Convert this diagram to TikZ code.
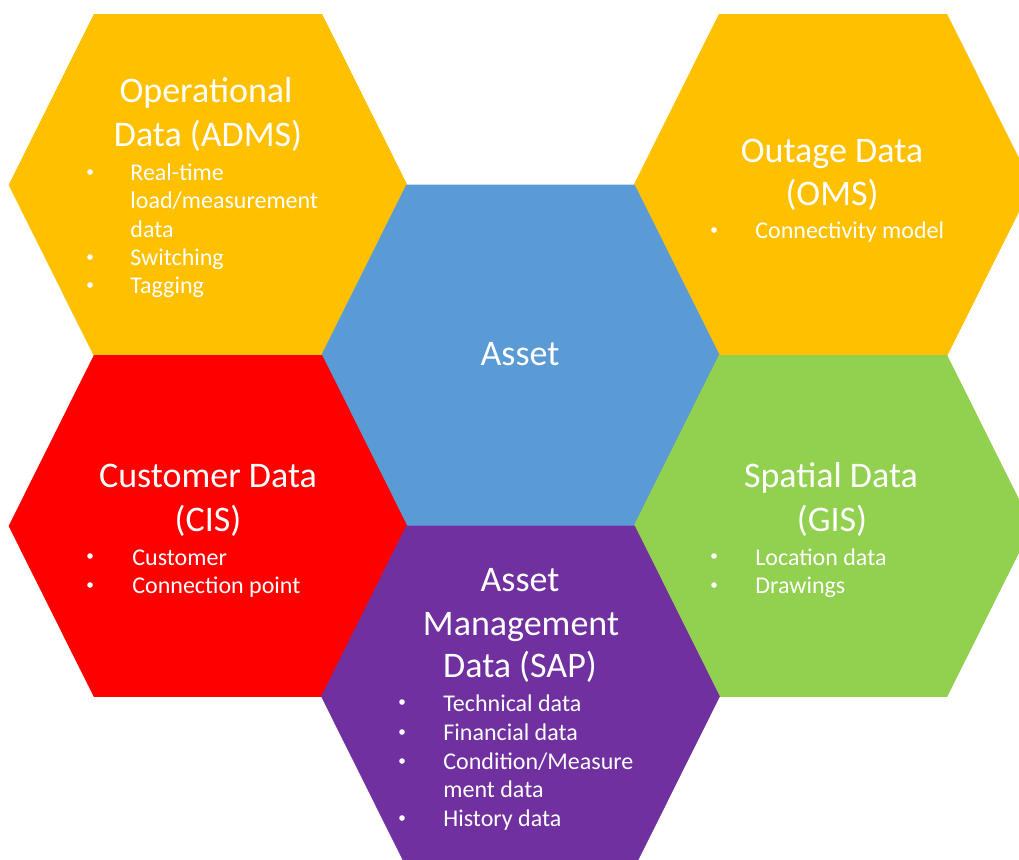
\documentclass[tikz,border=0pt]{standalone}
\usepackage{fontspec}
\setmainfont{Carlito}
\usepackage{tikz}

\definecolor{opsorange}{HTML}{FFC000}
\definecolor{assetblue}{HTML}{5B9BD5}
\definecolor{custred}{HTML}{FF0000}
\definecolor{gisgreen}{HTML}{92D050}
\definecolor{sappurple}{HTML}{7030A0}

\tikzset{
  title/.style={anchor=base, inner sep=0pt, text=white, font=\fontsize{18}{21}\selectfont},
  item/.style={anchor=base west, inner sep=0pt, text=white, font=\fontsize{12}{14}\selectfont},
  dot/.style={circle, fill=white, inner sep=0pt, minimum size=2.8pt},
}

\begin{document}
\begin{tikzpicture}[x=0.5pt,y=-0.5pt]
\clip (0,0) rectangle (1019,859);
% honeycomb: centre x / centre y / colour
\foreach \cx/\cy/\col in {208/185/opsorange, 833/185/opsorange, 520.5/355.5/assetblue,
                          208/526/custred, 833/526/gisgreen, 520.5/696.5/sappurple}
  \filldraw[\col, line width=0.3pt] (\cx-199,\cy) -- (\cx-114,\cy-170.5) -- (\cx+114,\cy-170.5)
    -- (\cx+199,\cy) -- (\cx+114,\cy+170.5) -- (\cx-114,\cy+170.5) -- cycle;

% centre
\node[title] (asset) at (520,365) {Asset};

% operational data
\node[title] (ops1) at (206,102) {Operational};
\node[title] (ops2) at (208,146) {Data (ADMS)};
\foreach \y in {172,257,285} \node[dot] (opsdot\y) at (90,\y) {};
\node[item] (ops3) at (130,180) {Real-time};
\node[item] (ops4) at (130,208) {load/measurement};
\node[item] (ops5) at (130,237) {data};
\node[item] (ops6) at (130,265) {Switching};
\node[item] (ops7) at (130,293) {Tagging};

% outage data
\node[title] (oms1) at (832,162) {Outage Data};
\node[title] (oms2) at (832,205) {(OMS)};
\node[dot] (omsdot) at (714,230) {};
\node[item] (oms3) at (755,238) {Connectivity model};

% customer data
\node[title] (cis1) at (208,487) {Customer Data};
\node[title] (cis2) at (208,531) {(CIS)};
\foreach \y in {556,585} \node[dot] (cisdot\y) at (90,\y) {};
\node[item] (cis3) at (132,565) {Customer};
\node[item] (cis4) at (132,593) {Connection point};

% spatial data
\node[title] (gis1) at (831,487) {Spatial Data};
\node[title] (gis2) at (832,531) {(GIS)};
\foreach \y in {556,585} \node[dot] (gisdot\y) at (714,\y) {};
\node[item] (gis3) at (755,565) {Location data};
\node[item] (gis4) at (755,593) {Drawings};

% asset management data
\node[title] (sap1) at (520,591) {Asset};
\node[title] (sap2) at (521,635) {Management};
\node[title] (sap3) at (520,677) {Data (SAP)};
\foreach \y in {702,732,761,818} \node[dot] (sapdot\y) at (402,\y) {};
\node[item] (sap4) at (443,711) {Technical data};
\node[item] (sap5) at (443,740) {Financial data};
\node[item] (sap6) at (443,769) {Condition/Measure};
\node[item] (sap7) at (443,797) {ment data};
\node[item] (sap8) at (443,826) {History data};
\end{tikzpicture}
\end{document}
